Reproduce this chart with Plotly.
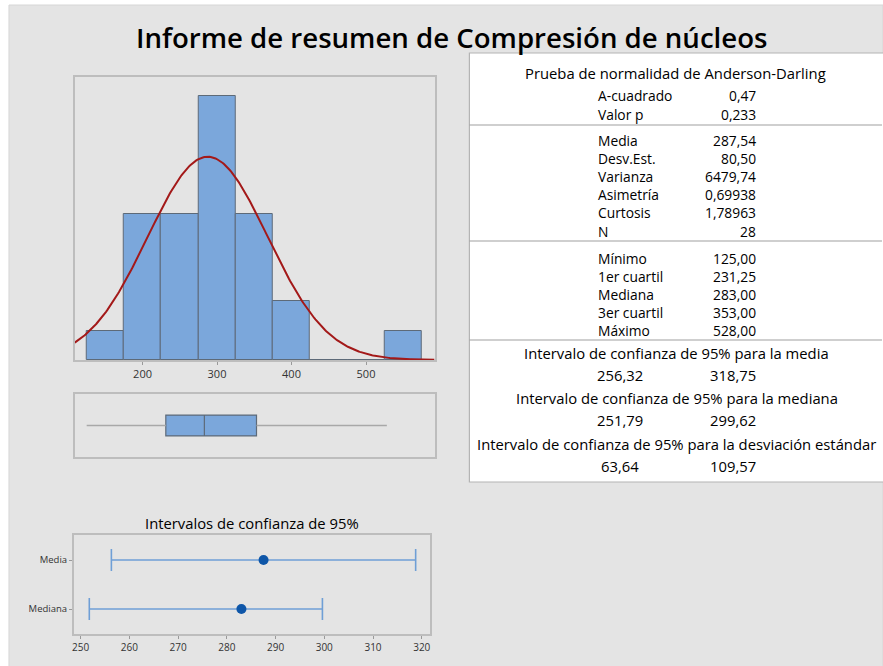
import numpy as np
import plotly.graph_objects as go

W, H = 883, 666

# ---------------- data ----------------
title_text = "Informe de resumen de Compresión de núcleos"
bin_centers = [150, 200, 250, 300, 350, 400, 450, 500, 550]
bin_counts = [1, 5, 5, 9, 5, 2, 0, 0, 1]
bin_width = 50
hist_ticks = [200, 300, 400, 500]

mean_val = 287.54
sd_val = 80.50
n_val = 28
minimum, q1, median, q3, maximum = 125.0, 231.25, 283.0, 353.0, 528.0

ci_labels = ["Media", "Mediana"]
ci_centers = [287.54, 283.00]
ci_low = [256.32, 251.79]
ci_high = [318.75, 299.62]
ci_ticks = [250, 260, 270, 280, 290, 300, 310, 320]

ad_header = "Prueba de normalidad de Anderson-Darling"
ad_labels = ["A-cuadrado", "Valor p"]
ad_values = ["0,47", "0,233"]
desc_labels = ["Media", "Desv.Est.", "Varianza", "Asimetría", "Curtosis", "N"]
desc_values = ["287,54", "80,50", "6479,74", "0,69938", "1,78963", "28"]
quart_labels = ["Mínimo", "1er cuartil", "Mediana", "3er cuartil", "Máximo"]
quart_values = ["125,00", "231,25", "283,00", "353,00", "528,00"]
ci_headers = ["Intervalo de confianza de 95% para la media",
              "Intervalo de confianza de 95% para la mediana",
              "Intervalo de confianza de 95% para la desviación estándar"]
ci_value_pairs = [("256,32", "318,75"), ("251,79", "299,62"), ("63,64", "109,57")]

# ---------------- helpers ----------------
def px(x):
    return x / W

def py(y):
    return 1 - y / H

FONT = "Open Sans"
TXT = "#000000"
BAR = "#7ba7db"
BAR_LINE = "#5d6a78"
PANEL_LINE = "#bdbdbd"

fig = go.Figure()

# histogram
fig.add_trace(go.Bar(x=bin_centers, y=bin_counts, width=bin_width,
                     marker=dict(color=BAR, line=dict(color=BAR_LINE, width=1)),
                     xaxis="x", yaxis="y", showlegend=False))
xs = np.linspace(109, 592, 300)
pdf = n_val * bin_width * np.exp(-0.5 * ((xs - mean_val) / sd_val) ** 2) / (sd_val * np.sqrt(2 * np.pi))
fig.add_trace(go.Scatter(x=xs, y=pdf, mode="lines", line=dict(color="#a31919", width=2),
                         xaxis="x", yaxis="y", showlegend=False))

# boxplot: whiskers then box
fig.add_trace(go.Scatter(x=[minimum, q1, None, q3, maximum], y=[0, 0, None, 0, 0], mode="lines",
                         line=dict(color="#a8a8a8", width=1.5), xaxis="x2", yaxis="y2", showlegend=False))
fig.add_trace(go.Box(y=[0], q1=[q1], median=[median], q3=[q3], lowerfence=[q1], upperfence=[q3],
                     orientation="h", width=0.66, fillcolor=BAR,
                     line=dict(color=BAR_LINE, width=1.2), xaxis="x2", yaxis="y2", showlegend=False))

# confidence intervals
ci_y = [1, 0]
fig.add_trace(go.Scatter(
    x=ci_centers, y=ci_y, mode="markers",
    marker=dict(color="#0e56a8", size=10),
    error_x=dict(type="data", symmetric=False,
                 array=[h - c for h, c in zip(ci_high, ci_centers)],
                 arrayminus=[c - l for l, c in zip(ci_low, ci_centers)],
                 color="#6f9fd6", thickness=1.6, width=11),
    xaxis="x3", yaxis="y3", showlegend=False))

axis_common = dict(showline=True, mirror=True, linecolor=PANEL_LINE, linewidth=1.5,
                   showgrid=False, zeroline=False)

layout = dict(
    width=W, height=H, margin=dict(l=0, r=0, t=0, b=0),
    paper_bgcolor="white", plot_bgcolor="white",
    font=dict(family=FONT, color=TXT),
    bargap=0,
    xaxis=dict(domain=[px(73), px(434)], range=[109, 592], tickvals=hist_ticks,
               ticks="outside", ticklen=3, tickcolor="#999", tickfont=dict(size=11, color="#333"),
               anchor="y", **axis_common),
    yaxis=dict(domain=[py(360), py(77)], range=[0, 9.66], showticklabels=False,
               anchor="x", **axis_common),
    xaxis2=dict(domain=[px(73), px(434)], range=[109, 592], showticklabels=False,
                anchor="y2", **axis_common),
    yaxis2=dict(domain=[py(457), py(394)], range=[-1, 1], showticklabels=False,
                anchor="x2", **axis_common),
    xaxis3=dict(domain=[px(72), px(429)], range=[248.6, 321.6], tickvals=ci_ticks,
                ticks="outside", ticklen=3, tickcolor="#999", tickfont=dict(size=10, color="#333"),
                anchor="y3", **axis_common),
    yaxis3=dict(domain=[py(634), py(535)], range=[-0.51, 1.51], tickvals=ci_y, ticktext=ci_labels,
                ticks="outside", ticklen=3, tickcolor="#999", tickfont=dict(size=9.5, color="#333"),
                anchor="x3", **axis_common),
)

shapes = [
    dict(type="rect", xref="paper", yref="paper", x0=px(7), x1=px(884), y0=py(667), y1=py(5),
         fillcolor="#e4e4e4", line=dict(color="#d6d6d6", width=1), layer="below"),
    dict(type="rect", xref="paper", yref="paper", x0=px(469), x1=px(886), y0=py(482), y1=py(53),
         fillcolor="white", line=dict(color="#b4b4b4", width=1.2), layer="below"),
]
for yy in [125, 241, 340]:
    shapes.append(dict(type="line", xref="paper", yref="paper", x0=px(469), x1=px(883),
                       y0=py(yy), y1=py(yy), line=dict(color="#a0a0a0", width=1.2)))
layout["shapes"] = shapes

ann = []
def text(x, y, s, size=14.8, anchor="center", weight=None):
    f = dict(size=size, color=TXT, family=FONT)
    if weight:
        f["weight"] = weight
    ann.append(dict(x=px(x), y=py(y), xref="paper", yref="paper", text=s, showarrow=False,
                    xanchor=anchor, yanchor="middle", font=f, borderpad=0))

ROW_FS = 13.8
text(451, 37, title_text, size=27.6, weight=600)
text(251, 523, "Intervalos de confianza de 95%", size=14.8)

text(676, 73, ad_header)
LX, RX = 597, 758
row = 18.2
for i, (l, v) in enumerate(zip(ad_labels, ad_values)):
    text(LX, 96 + i * row, l, size=ROW_FS, anchor="left")
    text(RX, 96 + i * row, v, size=ROW_FS, anchor="right")
for i, (l, v) in enumerate(zip(desc_labels, desc_values)):
    text(LX, 140 + i * row, l, size=ROW_FS, anchor="left")
    text(RX, 140 + i * row, v, size=ROW_FS, anchor="right")
for i, (l, v) in enumerate(zip(quart_labels, quart_values)):
    text(LX, 258 + i * row, l, size=ROW_FS, anchor="left")
    text(RX, 258 + i * row, v, size=ROW_FS, anchor="right")
ci_head_y = [353, 398, 444]
for hy, h, (a, b) in zip(ci_head_y, ci_headers, ci_value_pairs):
    text(677, hy, h)
    text(620, hy + 22, a)
    text(RX, hy + 22, b, anchor="right")
layout["annotations"] = ann

fig.update_layout(**layout)
fig.write_html("out.html", config={"displayModeBar": False},
               post_script="document.body.style.margin='0px';")
